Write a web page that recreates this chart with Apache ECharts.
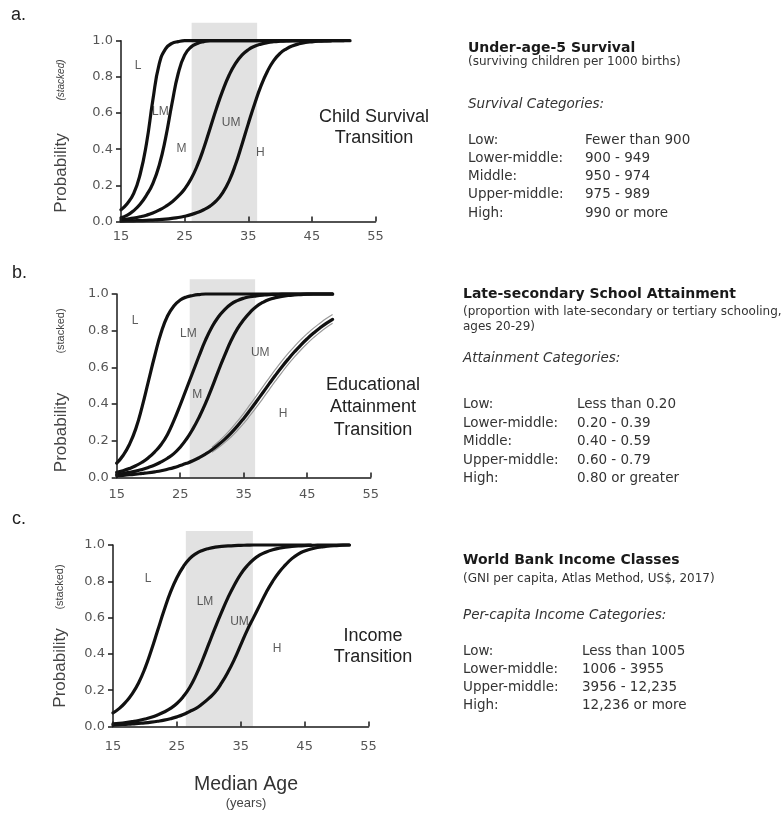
<!DOCTYPE html>
<html><head><meta charset="utf-8">
<script src="https://cdn.jsdelivr.net/npm/echarts@6/dist/echarts.min.js"></script>
<style>html,body{margin:0;padding:0;background:#fff}#c{width:781px;height:815px}</style>
</head><body><div id="c"></div>
<script>
// ---------- data ----------
const xMin = 15, xMax = 55, xStep = 10;
const yMin = 0, yMax = 1, yStep = 0.2;

// Panel a: child survival transition (stacked cumulative probabilities)
const agesA = [15,16,17,18,19,20,21,22,23,24,25,26,27,28,29,30,31,32,33,34,35,36,37,38,39,40,41,42,43,44,45,46,47,48,49,50,51];
const aL  = [.065,.10,.155,.26,.43,.67,.87,.955,.985,.995,1,1,1,1,1,1,1,1,1,1,1,1,1,1,1,1,1,1,1,1,1,1,1,1];
const aLM = [.02,.035,.06,.095,.145,.21,.31,.46,.65,.82,.92,.965,.985,.995,1,1,1,1,1,1,1,1,1,1,1,1,1,1,1,1,1,1,1,1];
const aM  = [.01,.014,.019,.026,.035,.047,.063,.083,.108,.14,.18,.235,.31,.405,.515,.625,.725,.81,.875,.92,.95,.969,.981,.989,.994,.997,.999,1,1,1,1,1,1,1,1,1];
const aUM = [.002,.003,.004,.005,.006,.008,.01,.013,.017,.022,.029,.038,.05,.065,.085,.115,.16,.225,.315,.425,.54,.65,.75,.83,.89,.93,.955,.972,.983,.99,.994,.997,.999,1,1,1,1];
const bandA = [26.1, 36.4];
const labA = [['L',17.7,0.86],['LM',21.2,0.61],['M',24.5,0.40],['UM',32.3,0.544],['H',36.9,0.378]];

// Panel b: educational attainment transition
const agesB = [15,16,17,18,19,20,21,22,23,24,25,26,27,28,29,30,31,32,33,34,35,36,37,38,39,40,41,42,43,44,45,46,47,48,49];
const bL  = [.078,.12,.18,.265,.385,.525,.665,.79,.88,.935,.967,.984,.992,.997,1,1,1,1,1,1,1,1,1,1,1,1,1,1,1,1,1,1,1,1,1];
const bLM = [.028,.037,.049,.064,.083,.108,.14,.18,.235,.31,.395,.485,.575,.665,.75,.82,.875,.915,.945,.964,.977,.985,.99,.994,.997,.998,.999,1,1,1,1,1,1,1,1];
const bM  = [.017,.022,.028,.035,.044,.055,.068,.085,.105,.13,.165,.21,.265,.33,.405,.49,.58,.665,.745,.81,.86,.90,.932,.954,.97,.98,.987,.992,.995,.997,.999,1,1,1,1];
const bUM = [.010,.012,.015,.018,.022,.026,.031,.037,.045,.054,.065,.077,.091,.108,.128,.151,.178,.208,.242,.280,.322,.367,.414,.462,.510,.557,.602,.645,.685,.722,.756,.787,.815,.840,.862];
const ciAgesB = [30,31,32,33,34,35,36,37,38,39,40,41,42,43,44,45,46,47,48,49];
const bUMhi = [.165,.195,.228,.265,.306,.350,.397,.445,.494,.542,.589,.634,.676,.715,.751,.784,.814,.841,.866,.888];
const bUMlo = [.138,.162,.190,.221,.256,.295,.338,.383,.430,.478,.526,.572,.616,.657,.695,.730,.762,.791,.817,.840];
const bandB = [26.5, 36.8];
const labB = [['L',17.9,0.854],['LM',26.3,0.786],['M',27.7,0.45],['UM',37.6,0.68],['H',41.2,0.35]];

// Panel c: income transition
const agesC = [15,16,17,18,19,20,21,22,23,24,25,26,27,28,29,30,31,32,33,34,35,36,37,38,39,40,41,42,43,44,45,46,47,48,49,50,51,52];
const cL  = [.075,.10,.135,.18,.24,.32,.42,.53,.64,.74,.82,.88,.925,.953,.97,.981,.988,.992,.995,.997,.998,.999,1,1,1,1,1,1,1,1,1,1];
const cLM = [.015,.018,.022,.027,.033,.041,.051,.064,.08,.10,.127,.165,.215,.283,.365,.455,.545,.63,.71,.78,.84,.885,.92,.945,.962,.974,.982,.988,.992,.995,.997,.998,.999,1,1,1,1,1];
const cUM = [.008,.01,.012,.014,.017,.02,.024,.029,.035,.043,.053,.066,.083,.10,.125,.155,.19,.24,.30,.37,.45,.53,.60,.67,.74,.80,.85,.89,.925,.95,.967,.978,.986,.991,.995,.997,.999,1];
const bandC = [26.4, 36.9];
const labC = [['L',20.5,0.817],['LM',29.4,0.69],['UM',34.8,0.578],['H',40.7,0.43]];

// Right-side text
const titleA = 'Under-age-5 Survival';
const subA = ['(surviving children per 1000 births)'];
const catTitleA = 'Survival Categories:';
const catA = ['Low:','Lower-middle:','Middle:','Upper-middle:','High:'];
const rangeA = ['Fewer than 900','900 - 949','950 - 974','975 - 989','990 or more'];

const titleB = 'Late-secondary School Attainment';
const subB = ['(proportion with late-secondary or tertiary schooling,','ages 20-29)'];
const catTitleB = 'Attainment Categories:';
const catB = ['Low:','Lower-middle:','Middle:','Upper-middle:','High:'];
const rangeB = ['Less than 0.20','0.20 - 0.39','0.40 - 0.59','0.60 - 0.79','0.80 or greater'];

const titleC = 'World Bank Income Classes';
const subC = ['(GNI per capita, Atlas Method, US$, 2017)'];
const catTitleC = 'Per-capita Income Categories:';
const catC = ['Low:','Lower-middle:','Upper-middle:','High:'];
const rangeC = ['Less than 1005','1006 - 3955','3956 - 12,235','12,236 or more'];

const sideA = ['Child Survival','Transition'];
const sideB = ['Educational','Attainment','Transition'];
const sideC = ['Income','Transition'];

// ---------- layout ----------
const panels = [
  {grid:{left:121, top:40.7, width:254.5, height:180.8}, bandTop:22.7, lm:9,
   curves:[[agesA,aL],[agesA,aLM],[agesA,aM],[agesA,aUM]], ci:[], band:bandA, labels:labA},
  {grid:{left:116.7, top:294, width:254, height:183.5}, bandTop:279.3, lm:11,
   curves:[[agesB,bL],[agesB,bLM],[agesB,bM],[agesB,bUM]], ci:[[ciAgesB,bUMhi],[ciAgesB,bUMlo]], band:bandB, labels:labB},
  {grid:{left:113, top:545, width:255.5, height:181.5}, bandTop:531, lm:14,
   curves:[[agesC,cL],[agesC,cLM],[agesC,cUM]], ci:[], band:bandC, labels:labC}
];

const axisColor = '#1a1a1a';
const tickFont = {color:'#555', fontSize:13, fontFamily:'DejaVu Sans'};
const grids = [], xAxes = [], yAxes = [], series = [];

panels.forEach((p, k) => {
  const gi = 2*k, bi = 2*k+1;
  grids.push(Object.assign({containLabel:false}, p.grid));
  const g = p.grid;
  grids.push({left:g.left, width:g.width, top:p.bandTop, height:(g.top+g.height) - p.bandTop});
  xAxes.push({gridIndex:gi, type:'value', min:xMin, max:xMax, interval:xStep, z:10,
    axisLine:{show:true, onZero:false, lineStyle:{color:axisColor, width:1.5}},
    axisTick:{show:true, inside:true, length:5, lineStyle:{color:axisColor, width:1.5}},
    axisLabel:Object.assign({margin:p.lm}, tickFont), splitLine:{show:false}});
  yAxes.push({gridIndex:gi, type:'value', min:yMin, max:yMax, interval:yStep, z:10,
    axisLine:{show:true, lineStyle:{color:axisColor, width:1.5}},
    axisTick:{show:true, inside:false, length:5, lineStyle:{color:axisColor, width:1.5}},
    axisLabel:Object.assign({margin:8, formatter:v=>v.toFixed(1)}, tickFont), splitLine:{show:false}});
  xAxes.push({gridIndex:bi, type:'value', min:xMin, max:xMax, show:false});
  yAxes.push({gridIndex:bi, type:'value', min:0, max:1, show:false});

  series.push({type:'line', xAxisIndex:bi, yAxisIndex:bi, data:[[xMin,0],[xMax,0]], symbol:'none',
    lineStyle:{opacity:0}, silent:true, z:1,
    markArea:{silent:true, itemStyle:{color:'#e2e2e2'}, data:[[{xAxis:p.band[0]},{xAxis:p.band[1]}]]}});

  p.ci.forEach(([ages, vals]) => {
    series.push({type:'line', xAxisIndex:gi, yAxisIndex:gi, data:vals.map((v,i)=>[ages[i],v]),
      symbol:'none', smooth:0.5, clip:false, silent:true, z:3,
      lineStyle:{color:'#9a9a9a', width:1.2}});
  });
  p.curves.forEach(([ages, vals]) => {
    series.push({type:'line', xAxisIndex:gi, yAxisIndex:gi, data:vals.map((v,i)=>[ages[i],v]),
      symbol:'none', smooth:0.5, clip:false, silent:true, z:4,
      lineStyle:{color:'#111', width:3.2, cap:'round', join:'round'}});
  });
  series.push({type:'scatter', xAxisIndex:gi, yAxisIndex:gi, symbolSize:0, silent:true, z:5,
    data:p.labels.map(l=>[l[1], l[2], l[0]]),
    label:{show:true, position:'inside', formatter:q=>q.data[2], color:'#333', fontSize:12, fontFamily:'Liberation Sans'}});
});

// ---------- graphic text ----------
const G = [];
function txt(x, y, text, font, opts) {
  opts = opts || {};
  G.push({type:'text', x:x, y:y, rotation:opts.rot||0, silent:true, z:20,
    style:{text:text, font:font, fill:opts.fill||'#333', textAlign:opts.align||'left', textVerticalAlign:'middle'}});
}
const LS = '"Liberation Sans", Arial, sans-serif';
const DJ = '"DejaVu Sans", sans-serif';

// panel letters
txt(11, 15.5, 'a.', '18px '+LS, {fill:'#222'});
txt(12, 273.5, 'b.', '18px '+LS, {fill:'#222'});
txt(12, 519.5, 'c.', '18px '+LS, {fill:'#222'});

// y-axis titles
const yTitles = [[61,173,80,'italic 10px '],[61,432.5,331,'11px '],[60,668,587,'11px ']];
yTitles.forEach(([x, yp, ys, f]) => {
  txt(x, yp, 'Probability', '17px '+LS, {rot:Math.PI/2, align:'center', fill:'#444'});
  txt(x, ys, '(stacked)', f+LS, {rot:Math.PI/2, align:'center', fill:'#444'});
});

// side transition labels
sideA.forEach((s,i)=>txt(374, 116.7 + 21.6*i, s, '18px '+LS, {align:'center', fill:'#222'}));
sideB.forEach((s,i)=>txt(373, 385 + 22.5*i, s, '18px '+LS, {align:'center', fill:'#222'}));
sideC.forEach((s,i)=>txt(373, 636 + 21*i, s, '18px '+LS, {align:'center', fill:'#222'}));

// x-axis title
txt(246, 785, 'Median Age', '19.5px '+LS, {align:'center', fill:'#333'});
txt(246, 803, '(years)', '13px '+LS, {align:'center', fill:'#444'});

// right-hand category text
function block(x, xv, yT, title, subs, ySubs, yCat, catTitle, cats, ranges, yRow0, dRow) {
  txt(x, yT, title, 'bold 14px '+DJ, {fill:'#1a1a1a'});
  subs.forEach((s,i)=>txt(x, ySubs[i], s, '12px '+DJ, {fill:'#333'}));
  txt(x, yCat, catTitle, 'italic 13.5px '+DJ, {fill:'#333'});
  cats.forEach((c,i)=>{
    txt(x, yRow0 + dRow*i, c, '13.5px '+DJ, {fill:'#333'});
    txt(xv, yRow0 + dRow*i, ranges[i], '13.5px '+DJ, {fill:'#333'});
  });
}
block(468, 585, 48.5, titleA, subA, [62], 104, catTitleA, catA, rangeA, 140, 18.3);
block(463, 577, 294.5, titleB, subB, [312, 326.7], 358.3, catTitleB, catB, rangeB, 404.8, 18.4);
block(463, 582, 560.8, titleC, subC, [578.5], 615, catTitleC, catC, rangeC, 651, 18.3);

const chart = echarts.init(document.getElementById('c'), null, {renderer:'canvas'});
chart.setOption({
  backgroundColor:'#fff', animation:false,
  grid:grids, xAxis:xAxes, yAxis:yAxes, series:series, graphic:{elements:G}
});
</script>
</body></html>
